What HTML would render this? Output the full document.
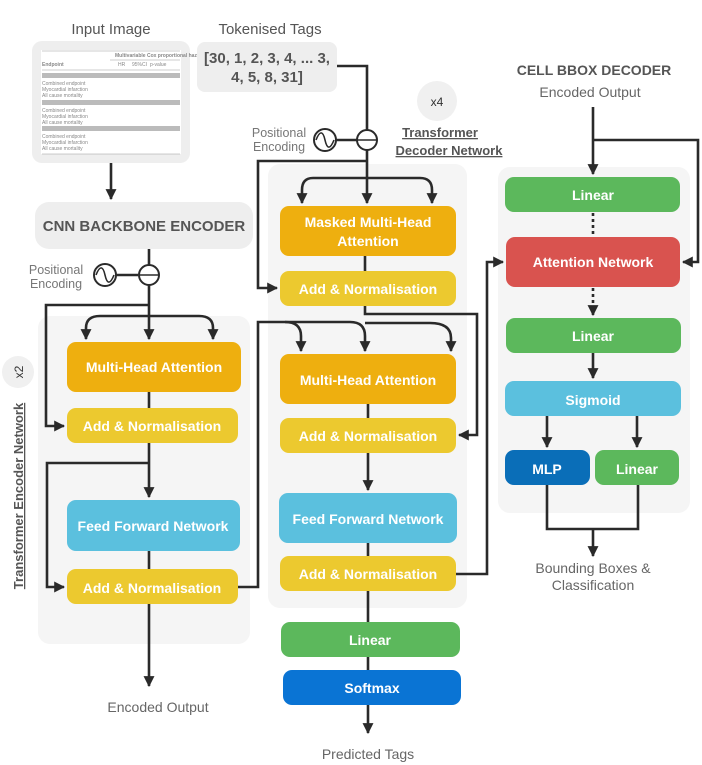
<!DOCTYPE html>
<html><head><meta charset="utf-8"><style>
html,body{margin:0;padding:0;background:#fff;}
svg{display:block;}
text{font-family:"Liberation Sans",sans-serif;}
.w{fill:#fff;font-weight:bold;font-size:14px;text-anchor:middle;}
.l{fill:none;stroke:#2a2a2a;stroke-width:2.6;}
.g{fill:#666;font-size:14px;text-anchor:middle;}
.t{fill:#888;font-size:5px;}
</style></head><body>
<svg width="702" height="765" viewBox="0 0 702 765" xmlns="http://www.w3.org/2000/svg">
<defs>
<marker id="a" viewBox="0 0 10 10" refX="9" refY="5" markerWidth="4.2" markerHeight="4.2" orient="auto" markerUnits="strokeWidth"><path d="M0,0 L10,5 L0,10 z" fill="#2a2a2a"/></marker>
</defs>
<!-- panels -->
<rect x="38" y="316" width="212" height="328" rx="12" fill="#f5f5f5"/>
<rect x="268" y="164" width="199" height="444" rx="12" fill="#f5f5f5"/>
<rect x="498" y="167" width="192" height="346" rx="12" fill="#f5f5f5"/>

<!-- top labels -->
<text x="111" y="34" class="g" style="font-size:15px;fill:#555">Input Image</text>
<rect x="32" y="41" width="158" height="122" rx="10" fill="#eeeeee"/>
<rect x="41" y="50" width="140" height="104" fill="#fff"/>
<g stroke="#999" stroke-width="0.6">
<line x1="42" y1="51" x2="180" y2="51"/><line x1="110" y1="60" x2="180" y2="60"/><line x1="42" y1="70" x2="180" y2="70"/><line x1="42" y1="154" x2="180" y2="154"/>
</g>
<rect x="42" y="73" width="138" height="5" fill="#bbb"/><rect x="42" y="100" width="138" height="5" fill="#bbb"/><rect x="42" y="126" width="138" height="5" fill="#bbb"/>
<text x="115" y="57" class="t" style="font-weight:bold">Multivariable Cox proportional hazard analysis</text>
<text x="42" y="66" class="t" style="font-weight:bold">Endpoint</text><text x="118" y="66" class="t">HR</text><text x="132" y="66" class="t">95%CI</text><text x="150" y="66" class="t">p-value</text>
<g class="t">
<text x="42" y="85">Combined endpoint</text><text x="42" y="91">Myocardial infarction</text><text x="42" y="97">All cause mortality</text>
<text x="42" y="112">Combined endpoint</text><text x="42" y="118">Myocardial infarction</text><text x="42" y="124">All cause mortality</text>
<text x="42" y="138">Combined endpoint</text><text x="42" y="144">Myocardial infarction</text><text x="42" y="150">All cause mortality</text>
</g>

<text x="270" y="34" class="g" style="font-size:15px;fill:#555">Tokenised Tags</text>
<rect x="197" y="42" width="140" height="50" rx="8" fill="#eeeeee"/>
<text x="267" y="63" style="font-size:15px;font-weight:bold;fill:#555;text-anchor:middle">[30,  1,  2,  3,  4, ... 3,</text>
<text x="267" y="82" style="font-size:15px;font-weight:bold;fill:#555;text-anchor:middle">4,  5,  8, 31]</text>

<rect x="35" y="202" width="218" height="47" rx="14" fill="#eeeeee"/>
<text x="144" y="231" style="font-size:15px;font-weight:bold;fill:#555;text-anchor:middle">CNN BACKBONE ENCODER</text>

<!-- encoder connectors -->
<line class="l" x1="111" y1="163" x2="111" y2="199" marker-end="url(#a)"/>
<text x="56" y="274" style="font-size:12.5px;fill:#777;text-anchor:middle">Positional</text>
<text x="56" y="288" style="font-size:12.5px;fill:#777;text-anchor:middle">Encoding</text>
<circle cx="105" cy="275" r="11" fill="#fff" stroke="#2a2a2a" stroke-width="2"/>
<path d="M96,275 C100,265 103,266 105,275 S110,285 114,275" fill="none" stroke="#2a2a2a" stroke-width="1.6"/>
<line class="l" x1="116" y1="275" x2="138" y2="275"/>
<line class="l" x1="149" y1="249" x2="149" y2="339" marker-end="url(#a)"/>
<circle cx="149" cy="275" r="10" fill="#fff" stroke="#2a2a2a" stroke-width="2"/>
<line x1="139" y1="275" x2="159" y2="275" stroke="#2a2a2a" stroke-width="1.6"/>
<path class="l" d="M149,305 H46 V426 H64" marker-end="url(#a)"/>
<path class="l" d="M149,316 H100 Q86,316 86,328 V339" marker-end="url(#a)"/>
<path class="l" d="M149,316 H199 Q213,316 213,328 V339" marker-end="url(#a)"/>
<line class="l" x1="149" y1="392" x2="149" y2="408"/>
<line class="l" x1="149" y1="443" x2="149" y2="497" marker-end="url(#a)"/>
<path class="l" d="M149,463 H47 V587 H64" marker-end="url(#a)"/>
<line class="l" x1="149" y1="551" x2="149" y2="569"/>
<line class="l" x1="149" y1="604" x2="149" y2="686" marker-end="url(#a)"/>
<text x="158" y="712" class="g">Encoded Output</text>

<!-- encoder boxes -->
<rect x="67" y="342" width="174" height="50" rx="9" fill="#eeaf0f"/><text x="154" y="372" class="w">Multi-Head Attention</text>
<rect x="67" y="408" width="171" height="35" rx="9" fill="#ecc92f"/><text x="152" y="431" class="w">Add &amp; Normalisation</text>
<rect x="67" y="500" width="173" height="51" rx="9" fill="#5bc0de"/><text x="153" y="531" class="w">Feed Forward Network</text>
<rect x="67" y="569" width="171" height="35" rx="9" fill="#ecc92f"/><text x="152" y="593" class="w">Add &amp; Normalisation</text>

<circle cx="18" cy="372" r="16" fill="#f0f0f0"/>
<text transform="translate(23,372) rotate(-90)" style="font-size:12px;fill:#333;text-anchor:middle">x2</text>
<text transform="translate(23,496) rotate(-90)" style="font-size:13px;font-weight:bold;fill:#555;text-anchor:middle;text-decoration:underline">Transformer Encoder Network</text>

<!-- decoder connectors -->
<path class="l" d="M337,66 H367 V203" marker-end="url(#a)"/>
<text x="279" y="137" style="font-size:12.5px;fill:#777;text-anchor:middle">Positional</text>
<text x="279" y="151" style="font-size:12.5px;fill:#777;text-anchor:middle">Encoding</text>
<circle cx="325" cy="140" r="11" fill="#fff" stroke="#2a2a2a" stroke-width="2"/>
<path d="M316,140 C320,130 323,131 325,140 S330,150 334,140" fill="none" stroke="#2a2a2a" stroke-width="1.6"/>
<line class="l" x1="336" y1="140" x2="357" y2="140"/>
<circle cx="367" cy="140" r="10" fill="#fff" stroke="#2a2a2a" stroke-width="2"/>
<line x1="357" y1="140" x2="377" y2="140" stroke="#2a2a2a" stroke-width="1.6"/>
<path class="l" d="M367,161 H258 V288 H277" marker-end="url(#a)"/>
<path class="l" d="M367,178 H313 Q302,178 302,190 V203" marker-end="url(#a)"/>
<path class="l" d="M367,178 H420 Q432,178 432,190 V203" marker-end="url(#a)"/>
<line class="l" x1="365" y1="256" x2="365" y2="271"/>
<path class="l" d="M365,306 V314 H477 V435 H459" marker-end="url(#a)"/>
<path class="l" d="M365,323 H430 Q451,323 451,338 V351" marker-end="url(#a)"/>
<path class="l" d="M238,587 H258 V322 H285 Q301,322 301,336 V351" marker-end="url(#a)"/>
<path class="l" d="M285,322 H350 Q365,322 365,336 V351" marker-end="url(#a)"/>
<line class="l" x1="368" y1="404" x2="368" y2="418"/>
<line class="l" x1="368" y1="453" x2="368" y2="490" marker-end="url(#a)"/>
<line class="l" x1="368" y1="543" x2="368" y2="556"/>
<line class="l" x1="368" y1="591" x2="368" y2="622"/>
<line class="l" x1="368" y1="657" x2="368" y2="670"/>
<line class="l" x1="368" y1="705" x2="368" y2="733" marker-end="url(#a)"/>
<text x="368" y="759" class="g">Predicted Tags</text>
<path class="l" d="M456,574 H487 V262 H503" marker-end="url(#a)"/>

<!-- decoder boxes -->
<rect x="280" y="206" width="176" height="50" rx="9" fill="#eeaf0f"/>
<text x="368" y="227" class="w">Masked Multi-Head</text><text x="368" y="246" class="w">Attention</text>
<rect x="280" y="271" width="176" height="35" rx="9" fill="#ecc92f"/><text x="368" y="294" class="w">Add &amp; Normalisation</text>
<rect x="280" y="354" width="176" height="50" rx="9" fill="#eeaf0f"/><text x="368" y="385" class="w">Multi-Head Attention</text>
<rect x="280" y="418" width="176" height="35" rx="9" fill="#ecc92f"/><text x="368" y="441" class="w">Add &amp; Normalisation</text>
<rect x="279" y="493" width="178" height="50" rx="9" fill="#5bc0de"/><text x="368" y="524" class="w">Feed Forward Network</text>
<rect x="280" y="556" width="176" height="35" rx="9" fill="#ecc92f"/><text x="368" y="579" class="w">Add &amp; Normalisation</text>
<rect x="281" y="622" width="179" height="35" rx="9" fill="#5cb85c"/><text x="370" y="645" class="w">Linear</text>
<rect x="283" y="670" width="178" height="35" rx="9" fill="#0a74d4"/><text x="372" y="693" class="w">Softmax</text>

<circle cx="437" cy="101" r="20" fill="#f0f0f0"/>
<text x="437" y="106" style="font-size:12px;fill:#333;text-anchor:middle">x4</text>
<text x="440" y="137" style="font-size:13px;font-weight:bold;fill:#555;text-anchor:middle;text-decoration:underline">Transformer</text>
<text x="449" y="155" style="font-size:13px;font-weight:bold;fill:#555;text-anchor:middle;text-decoration:underline">Decoder Network</text>

<!-- cell bbox decoder -->
<text x="594" y="75" style="font-size:14px;font-weight:bold;fill:#555;text-anchor:middle">CELL BBOX DECODER</text>
<text x="590" y="97" class="g">Encoded Output</text>
<line class="l" x1="593" y1="107" x2="593" y2="174" marker-end="url(#a)"/>
<path class="l" d="M593,140 H698 V262 H683" marker-end="url(#a)"/>
<line x1="593" y1="213" x2="593" y2="237" stroke="#2a2a2a" stroke-width="2.6" stroke-dasharray="3,3"/>
<line x1="593" y1="288" x2="593" y2="315" stroke="#2a2a2a" stroke-width="2.6" stroke-dasharray="3,3" marker-end="url(#a)"/>
<line class="l" x1="593" y1="353" x2="593" y2="378" marker-end="url(#a)"/>
<line class="l" x1="547" y1="416" x2="547" y2="447" marker-end="url(#a)"/>
<line class="l" x1="637" y1="416" x2="637" y2="447" marker-end="url(#a)"/>
<path class="l" d="M547,485 V529 H638 V485"/>
<line class="l" x1="593" y1="529" x2="593" y2="556" marker-end="url(#a)"/>
<text x="593" y="573" class="g">Bounding Boxes &amp;</text>
<text x="593" y="590" class="g">Classification</text>

<rect x="505" y="177" width="175" height="35" rx="9" fill="#5cb85c"/><text x="593" y="200" class="w">Linear</text>
<rect x="506" y="237" width="174" height="50" rx="9" fill="#d9534f"/><text x="593" y="267" class="w">Attention Network</text>
<rect x="506" y="318" width="175" height="35" rx="9" fill="#5cb85c"/><text x="593" y="341" class="w">Linear</text>
<rect x="505" y="381" width="176" height="35" rx="9" fill="#5bc0de"/><text x="593" y="405" class="w">Sigmoid</text>
<rect x="505" y="450" width="85" height="35" rx="9" fill="#0a6eb8"/><text x="547" y="474" class="w">MLP</text>
<rect x="595" y="450" width="84" height="35" rx="9" fill="#5cb85c"/><text x="637" y="474" class="w">Linear</text>
</svg>
</body></html>
